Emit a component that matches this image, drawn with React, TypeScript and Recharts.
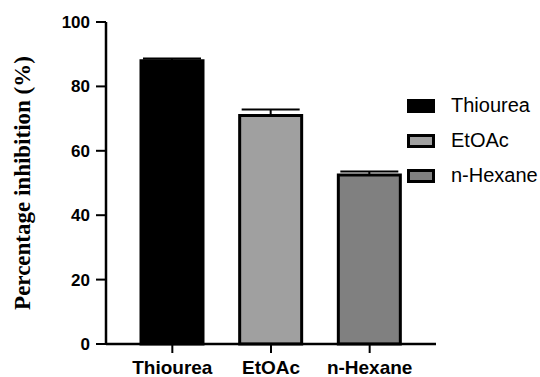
import { BarChart, Bar, XAxis, YAxis, Cell, ErrorBar, Legend } from 'recharts';

const categories = ['Thiourea', 'EtOAc', 'n-Hexane'];
const inhibition = [88.0, 71.0, 52.5];
const sem = [0.7, 1.8, 1.1];
const fills = ['#000000', '#a0a0a0', '#808080'];
const yTicks = [0, 20, 40, 60, 80, 100];

const data = categories.map((name, i) => ({ name, value: inhibition[i], err: [0, sem[i]] }));

function LegendBoxes() {
  return (
    <div style={{ fontFamily: '"Liberation Sans", Arial, sans-serif', fontSize: 20, color: '#000' }}>
      {categories.map((c, i) => (
        <div key={c} style={{ display: 'flex', alignItems: 'center', height: 35 }}>
          <span
            style={{
              display: 'inline-block',
              boxSizing: 'border-box',
              width: 28,
              height: 14,
              background: fills[i],
              border: '3px solid #000',
              marginRight: 16,
            }}
          />
          <span>{c}</span>
        </div>
      ))}
    </div>
  );
}

export default function App() {
  return (
    <div style={{ position: 'absolute', left: 0, top: 0, background: '#fff' }}>
      <BarChart width={540} height={377} data={data} margin={{ top: 22, right: 104, bottom: 0, left: 0 }}>
        <XAxis
          dataKey="name"
          height={33}
          padding={{ left: 17, right: 17 }}
          tickSize={9}
          tickMargin={8}
          axisLine={{ stroke: '#000', strokeWidth: 2.5 }}
          tickLine={{ stroke: '#000', strokeWidth: 2 }}
          tick={{ fill: '#000', fontSize: 19, fontWeight: 700, fontFamily: '"Liberation Sans", Arial, sans-serif' }}
        />
        <YAxis
          width={106}
          domain={[0, 100]}
          ticks={yTicks}
          interval={0}
          tickSize={10}
          tickMargin={6}
          axisLine={{ stroke: '#000', strokeWidth: 2.5 }}
          tickLine={{ stroke: '#000', strokeWidth: 2 }}
          tick={{ fill: '#000', fontSize: 17, fontWeight: 700, fontFamily: '"Liberation Sans", Arial, sans-serif' }}
          label={{
            value: 'Percentage inhibition (%)',
            angle: -90,
            position: 'insideLeft',
            offset: 22,
            style: {
              textAnchor: 'middle',
              fill: '#000',
              fontSize: 23,
              fontWeight: 700,
              fontFamily: '"Liberation Serif", "Times New Roman", serif',
            },
          }}
        />
        <Legend
          layout="horizontal"
          verticalAlign="middle"
          content={() => <LegendBoxes />}
          wrapperStyle={{ left: 407, top: 88, width: 133 }}
        />
        <Bar dataKey="value" barSize={62} stroke="#000" strokeWidth={3} isAnimationActive={false}>
          {data.map((d, i) => (
            <Cell key={d.name} fill={fills[i]} />
          ))}
          <ErrorBar dataKey="err" width={29} stroke="#000" strokeWidth={2} isAnimationActive={false} />
        </Bar>
      </BarChart>
    </div>
  );
}
